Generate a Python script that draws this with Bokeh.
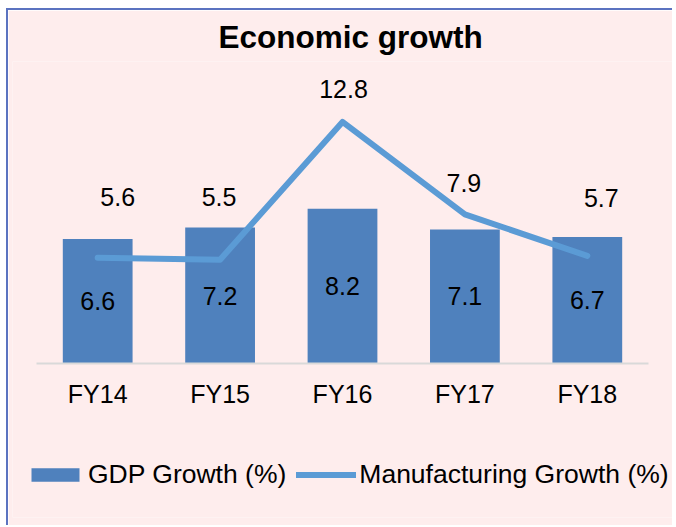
import numpy as np
from bokeh.plotting import figure
from bokeh.models import ColumnDataSource, LabelSet, Legend, LegendItem, FactorRange, Range1d
from bokeh.core.properties import value
from bokeh.embed import file_html
from bokeh.resources import INLINE

# ---- data ----
years = ["FY14", "FY15", "FY16", "FY17", "FY18"]
gdp_growth = [6.6, 7.2, 8.2, 7.1, 6.7]
mfg_growth = [5.6, 5.5, 12.8, 7.9, 5.7]

# ---- label placement (pixels) ----
mfg_label_dx = [20, -1, 1, -1, 14]
mfg_label_dy = [61, 63, 33, 31, 58]

BG = "#FEEDED"
BAR = "#4F81BD"
LINE = "#5B9BD5"
FONT = "Liberation Sans"

p = figure(
    x_range=FactorRange(*years, range_padding=0.196, range_padding_units="absolute"),
    y_range=Range1d(-8.16, 16),
    width=666, height=517,
    output_backend="svg", toolbar_location=None,
    min_border_left=4, min_border_right=2,
    min_border_top=51, min_border_bottom=10,
    background_fill_color=BG, border_fill_color=BG,
    outline_line_color=None,
)
p.styles = {"border-left": "2px solid #5B73C0", "border-top": "2px solid #5B73C0",
            "margin-left": "6px", "margin-top": "8px"}

p.title.text = "Economic growth"
p.title.text_font = FONT
p.title.text_font_size = "31.5px"
p.title.text_font_style = "bold"
p.title.align = "left"
p.title.offset = 206
p.title.vertical_align = "top"
p.title.standoff = 10
p.title.text_color = "#000000"

src = ColumnDataSource(dict(
    year=years, gdp=gdp_growth, mfg=mfg_growth,
    gdp_mid=list(np.array(gdp_growth) / 2.0),
    gdp_txt=[f"{v:.1f}" for v in gdp_growth],
    mfg_txt=[f"{v:.1f}" for v in mfg_growth],
    dx=mfg_label_dx, dy=mfg_label_dy,
))

bars = p.vbar(x="year", top="gdp", width=0.57, source=src, fill_color=BAR, line_color=None)
line = p.line(x="year", y="mfg", source=src, line_color=LINE, line_width=6,
              line_cap="round", line_join="round")

p.add_layout(LabelSet(x="year", y="gdp_mid", text="gdp_txt", source=src,
                      text_align="center", text_baseline="middle",
                      text_font=value(FONT), text_font_size=value("25px"), text_color="#000000"))
p.add_layout(LabelSet(x="year", y="mfg", text="mfg_txt", source=src,
                      x_offset="dx", y_offset="dy",
                      text_align="center", text_baseline="middle",
                      text_font=value(FONT), text_font_size=value("25px"), text_color="#000000"))

p.yaxis.visible = False
p.xgrid.visible = False
p.ygrid.visible = False
xa = p.xaxis[0]
xa.fixed_location = 0
xa.bounds = (0, 5)
xa.axis_line_color = "#D9D9D9"
xa.axis_line_width = 2
xa.major_tick_line_color = None
xa.minor_tick_line_color = None
xa.major_tick_out = 0
xa.major_tick_in = 0
xa.major_label_standoff = 17
xa.major_label_text_font = FONT
xa.major_label_text_font_size = "25px"
xa.major_label_text_color = "#000000"

legend = Legend(
    items=[LegendItem(label="GDP Growth (%)", renderers=[bars]),
           LegendItem(label="Manufacturing Growth (%)", renderers=[line])],
    location=(13, 27), orientation="horizontal",
    glyph_width=60, glyph_height=17, label_standoff=3, spacing=10,
    padding=0, margin=0, border_line_color=None, background_fill_alpha=0,
    label_text_font=FONT, label_text_font_size="26.5px", label_text_color="#000000",
)
p.add_layout(legend, "center")

open("out.html", "w").write(file_html(p, INLINE))
